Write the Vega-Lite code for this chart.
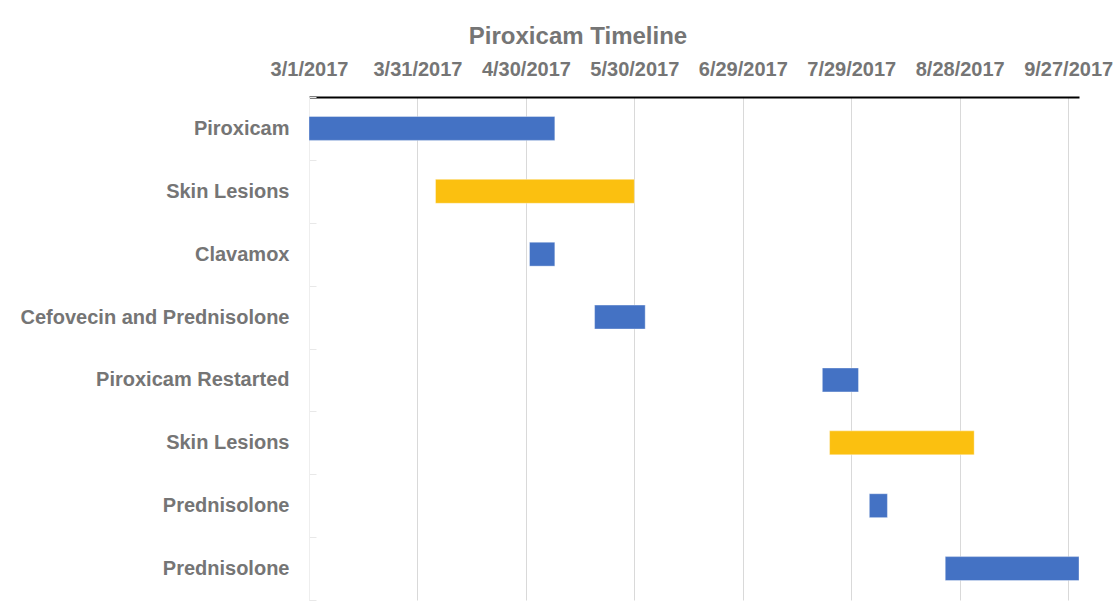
{
  "$schema": "https://vega.github.io/schema/vega-lite/v6.json",
  "width": 770,
  "height": 503,
  "autosize": {"type": "none"},
  "padding": {"left": 309, "top": 97, "right": 36, "bottom": 8},
  "background": "white",
  "title": {
    "text": "Piroxicam Timeline",
    "font": "Liberation Sans",
    "fontSize": 24,
    "fontWeight": "bold",
    "color": "#757575",
    "anchor": "middle",
    "dx": -116,
    "offset": 10
  },
  "config": {"view": {"stroke": null}, "font": "Liberation Sans"},
  "data": {
    "values": [
      {"row": "Piroxicam", "type": "Treatment", "start": "2017-03-01", "end": "2017-05-08"},
      {"row": "Skin Lesions", "type": "Symptom", "start": "2017-04-05", "end": "2017-05-30"},
      {"row": "Clavamox", "type": "Treatment", "start": "2017-05-01", "end": "2017-05-08"},
      {"row": "Cefovecin and Prednisolone", "type": "Treatment", "start": "2017-05-19", "end": "2017-06-02"},
      {"row": "Piroxicam Restarted", "type": "Treatment", "start": "2017-07-21", "end": "2017-07-31"},
      {"row": "Skin Lesions#2", "type": "Symptom", "start": "2017-07-23", "end": "2017-09-01"},
      {"row": "Prednisolone", "type": "Treatment", "start": "2017-08-03", "end": "2017-08-08"},
      {"row": "Prednisolone#2", "type": "Treatment", "start": "2017-08-24", "end": "2017-09-30"}
    ]
  },
  "mark": {"type": "bar", "height": {"band": 0.38}, "stroke": "#ffffff", "strokeWidth": 0.6, "strokeOpacity": 0.6},
  "encoding": {
    "y": {
      "field": "row",
      "type": "nominal",
      "sort": null,
      "scale": {"paddingInner": 0, "paddingOuter": 0},
      "axis": {
        "title": null,
        "labelExpr": "split(datum.label, '#')[0]",
        "labelFont": "Liberation Sans",
        "labelFontSize": 20,
        "labelFontWeight": "bold",
        "labelColor": "#757575",
        "labelLimit": 0,
        "labelPadding": 27,
        "ticks": true,
        "tickBand": "extent",
        "tickSize": -7,
        "tickColor": "#E8E8E8",
        "domain": true,
        "domainColor": "#EEEEEE",
        "grid": false
      }
    },
    "x": {
      "field": "start",
      "type": "temporal",
      "scale": {
        "type": "utc",
        "domain": [
          {"year": 2017, "month": 3, "date": 1, "utc": true},
          {"year": 2017, "month": 9, "date": 30, "utc": true}
        ]
      },
      "axis": {
        "orient": "top",
        "title": null,
        "format": "%-m/%-d/%Y",
        "values": [
          {"year": 2017, "month": 3, "date": 1, "utc": true},
          {"year": 2017, "month": 3, "date": 31, "utc": true},
          {"year": 2017, "month": 4, "date": 30, "utc": true},
          {"year": 2017, "month": 5, "date": 30, "utc": true},
          {"year": 2017, "month": 6, "date": 29, "utc": true},
          {"year": 2017, "month": 7, "date": 29, "utc": true},
          {"year": 2017, "month": 8, "date": 28, "utc": true},
          {"year": 2017, "month": 9, "date": 27, "utc": true}
        ],
        "labelFont": "Liberation Sans",
        "labelFontSize": 20,
        "labelFontWeight": "bold",
        "labelColor": "#757575",
        "labelPadding": 18,
        "labelFlush": false,
        "labelOverlap": false,
        "labelLimit": 0,
        "ticks": false,
        "tickSize": 0,
        "domain": true,
        "domainColor": "#000000",
        "domainWidth": 2,
        "grid": true,
        "gridColor": "#D9D9D9",
        "gridWidth": 1
      }
    },
    "x2": {"field": "end"},
    "color": {
      "field": "type",
      "type": "nominal",
      "scale": {"domain": ["Treatment", "Symptom"], "range": ["#4472C4", "#FBC010"]},
      "legend": null
    }
  }
}
